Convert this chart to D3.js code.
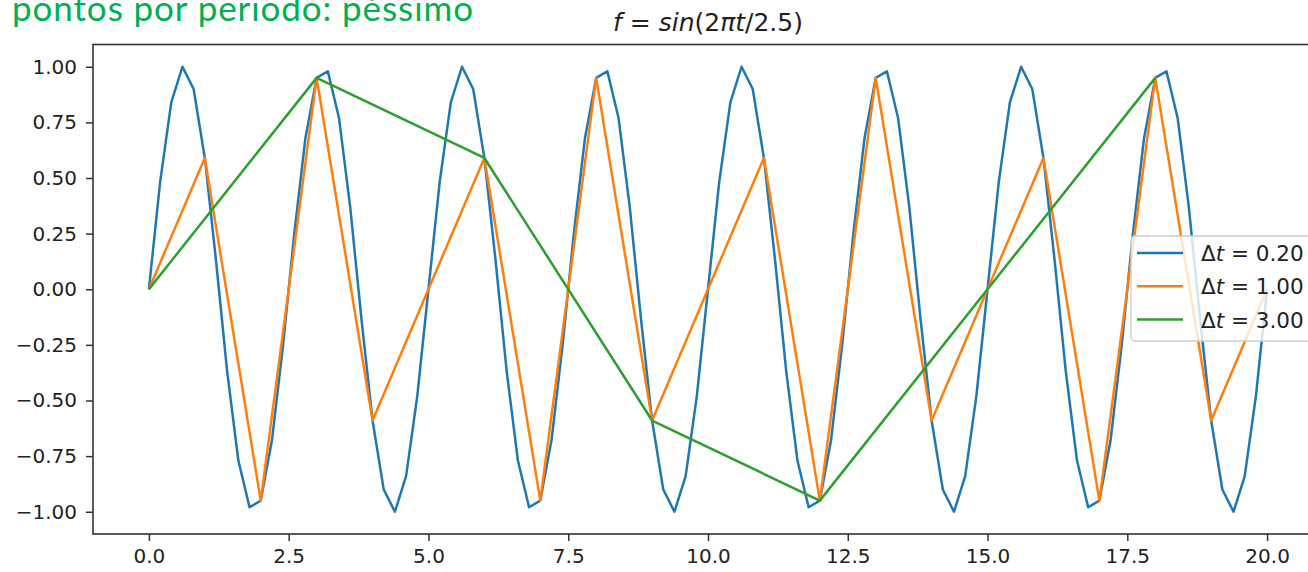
<!DOCTYPE html>
<html>
<head>
<meta charset="utf-8">
<script src="https://cdn.jsdelivr.net/npm/d3@7"></script>
<style>
    body { margin: 0; background: #fff; }
    svg { display: block; }
    .tick text { font-family: "DejaVu Sans", sans-serif; font-size: 20px; fill: #222; }
</style>
</head>
<body>
<svg id="chart" width="1308" height="572"></svg>
<script>

// samples of f, one array per step size
var dt_fine = 0.2,
    fine_values = [
         0.00,  0.48,  0.84,  1.00,  0.90,  0.59,  0.13, -0.37, -0.77, -0.98,
        -0.95, -0.68, -0.25,  0.25,  0.68,  0.95,  0.98,  0.77,  0.37, -0.13,
        -0.59, -0.90, -1.00, -0.84, -0.48,
         0.00,  0.48,  0.84,  1.00,  0.90,  0.59,  0.13, -0.37, -0.77, -0.98,
        -0.95, -0.68, -0.25,  0.25,  0.68,  0.95,  0.98,  0.77,  0.37, -0.13,
        -0.59, -0.90, -1.00, -0.84, -0.48,
         0.00,  0.48,  0.84,  1.00,  0.90,  0.59,  0.13, -0.37, -0.77, -0.98,
        -0.95, -0.68, -0.25,  0.25,  0.68,  0.95,  0.98,  0.77,  0.37, -0.13,
        -0.59, -0.90, -1.00, -0.84, -0.48,
         0.00,  0.48,  0.84,  1.00,  0.90,  0.59,  0.13, -0.37, -0.77, -0.98,
        -0.95, -0.68, -0.25,  0.25,  0.68,  0.95,  0.98,  0.77,  0.37, -0.13,
        -0.59, -0.90, -1.00, -0.84, -0.48,
         0.00
    ];

var dt_mid = 1.0,
    mid_values = [
         0.00,  0.59, -0.95,  0.95, -0.59,
         0.00,  0.59, -0.95,  0.95, -0.59,
         0.00,  0.59, -0.95,  0.95, -0.59,
         0.00,  0.59, -0.95,  0.95, -0.59,
         0.00
    ];

var dt_coarse = 3.0,
    coarse_values = [ 0.00, 0.95, 0.59, -0.59, -0.95, 0.00, 0.95 ];

var series_labels = [ "0.20", "1.00", "3.00" ],
    series_colors = [ "#1f77b4", "#ff7f0e", "#2ca02c" ];

var x_ticks = [ 0, 2.5, 5, 7.5, 10, 12.5, 15, 17.5, 20 ],
    y_ticks = [ -1, -0.75, -0.5, -0.25, 0, 0.25, 0.5, 0.75, 1 ];

function to_points(values, dt) {
    return values.map( (v,n) => [ n*dt, v ] );
}

var series = [
    to_points(fine_values, dt_fine),
    to_points(mid_values, dt_mid),
    to_points(coarse_values, dt_coarse)
];

// note: "top" is taken by window.top, hence the plot_ prefix
var svg = d3.select("#chart"),
    plot_left = 93, plot_right = 1323, plot_top = 44.5, plot_bottom = 534,
    xScale = d3.scaleLinear().domain([-1, 21]).range([plot_left, plot_right]),
    yScale = d3.scaleLinear().domain([-1.1, 1.1]).range([plot_bottom, plot_top]),
    minus = s => s.replace("-", "\u2212")
;

// the slide caption above the figure, partly cut by the top edge
svg.append("text")
    .attr("x", 12)
    .attr("y", 21)
    .attr("font-family", "Lato, 'Open Sans', sans-serif")
    .attr("font-size", 35)
    .attr("textLength", 461)
    .attr("lengthAdjust", "spacing")
    .attr("fill", "#00b050")
    .text("pontos por periodo: péssimo")
;

// title in mathtext style
var title = svg.append("text")
    .attr("x", (plot_left + plot_right) / 2)
    .attr("y", 31)
    .attr("text-anchor", "middle")
    .attr("font-family", "DejaVu Sans, sans-serif")
    .attr("font-size", 25)
    .attr("fill", "#222")
;
title.append("tspan").attr("font-style", "italic").text("f");
title.append("tspan").text(" = ");
title.append("tspan").attr("font-style", "italic").text("sin");
title.append("tspan").text("(2");
title.append("tspan").attr("font-style", "italic").text("πt");
title.append("tspan").text("/2.5)");

var line = d3.line()
    .x( d => xScale(d[0]) )
    .y( d => yScale(d[1]) )
;

svg.append("defs").append("clipPath")
    .attr("id", "plot-clip")
    .append("rect")
    .attr("x", plot_left).attr("y", plot_top)
    .attr("width", plot_right - plot_left).attr("height", plot_bottom - plot_top)
;

svg.append("g")
    .attr("clip-path", "url(#plot-clip)")
    .selectAll("path")
    .data(series)
    .enter().append("path")
    .attr("d", line)
    .attr("fill", "none")
    .attr("stroke", (d,i) => series_colors[i])
    .attr("stroke-width", 2.5)
    .attr("stroke-linejoin", "round")
;

// axes
var xAxis = svg.append("g")
    .attr("transform", "translate(0," + plot_bottom + ")")
    .call(d3.axisBottom(xScale).tickValues(x_ticks).tickFormat(d3.format(".1f")).tickSize(7).tickPadding(8))
;
var yAxis = svg.append("g")
    .attr("transform", "translate(" + plot_left + ",0)")
    .call(d3.axisLeft(yScale).tickValues(y_ticks).tickFormat( t => minus(d3.format(".2f")(t)) ).tickSize(7).tickPadding(9))
;
[xAxis, yAxis].forEach(function(g) {
    g.select(".domain").remove();
    g.selectAll(".tick line").attr("stroke", "#333").attr("stroke-width", 1.5);
});

svg.append("rect")
    .attr("x", plot_left).attr("y", plot_top)
    .attr("width", plot_right - plot_left).attr("height", plot_bottom - plot_top)
    .attr("fill", "none")
    .attr("stroke", "#333")
    .attr("stroke-width", 1.6)
;

// legend, half see-through like matplotlib's
var legend = svg.append("g");
legend.append("rect")
    .attr("x", 1131).attr("y", 236)
    .attr("width", 186).attr("height", 105)
    .attr("rx", 4)
    .attr("fill", "#fff")
    .attr("fill-opacity", 0.8)
    .attr("stroke", "#ccc")
    .attr("stroke-width", 1.3)
;

var rows = legend.selectAll(".row")
    .data(series_labels)
    .enter().append("g")
    .attr("transform", (d,i) => "translate(0," + (253 + i*33.3) + ")")
;
rows.append("line")
    .attr("x1", 1137).attr("x2", 1183)
    .attr("stroke", (d,i) => series_colors[i])
    .attr("stroke-width", 2.5)
;
var label = rows.append("text")
    .attr("x", 1201)
    .attr("y", 8)
    .attr("font-family", "DejaVu Sans, sans-serif")
    .attr("font-size", 21.5)
    .attr("fill", "#222")
;
label.append("tspan").text("Δ");
label.append("tspan").attr("font-style", "italic").text("t");
label.append("tspan").text(d => " = " + d);

</script>
</body>
</html>
